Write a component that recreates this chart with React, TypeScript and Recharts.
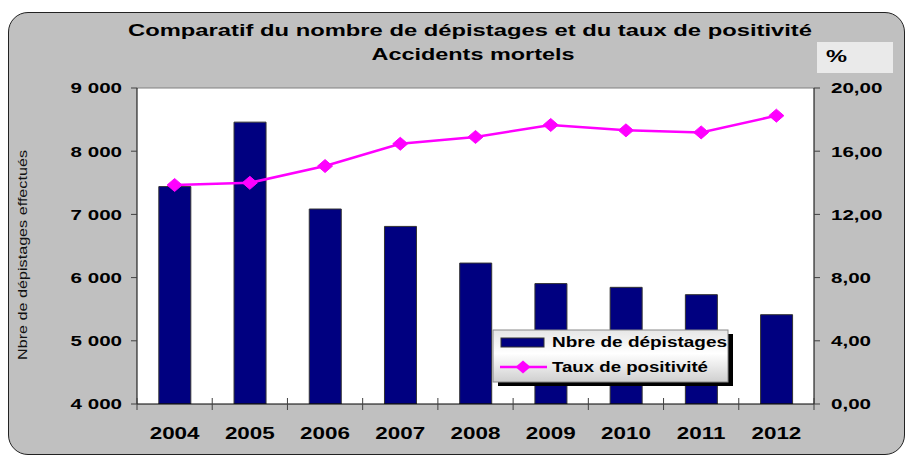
import React from "react";
import {
  ComposedChart,
  Bar,
  Line,
  XAxis,
  YAxis,
  CartesianGrid,
  ReferenceLine,
} from "recharts";

// values
const years = ["2004", "2005", "2006", "2007", "2008", "2009", "2010", "2011", "2012"];
const depistages = [7440, 8460, 7085, 6810, 6230, 5905, 5846, 5730, 5413];
const tauxPositivite = [13.86, 14.0, 15.06, 16.47, 16.9, 17.66, 17.32, 17.19, 18.25];

const leftTicks = [4000, 5000, 6000, 7000, 8000, 9000];
const rightTicks = [0, 4, 8, 12, 16, 20];

const titleLines = [
  "Comparatif du nombre de dépistages et du taux de positivité",
  "Accidents mortels",
];
const yTitle = "Nbre de dépistages effectués";
const unitLabel = "%";
const seriesNames = ["Nbre de dépistages", "Taux de positivité"];

const data = years.map((year, i) => ({
  year,
  depistages: depistages[i],
  taux: tauxPositivite[i],
}));

const NAVY = "#000080";
const MAGENTA = "#FF00FF";
const FONT = "'Liberation Sans', Arial, sans-serif";
const STRETCH = 1.37;
const X_LABEL_GAP = 23; // distance from axis line to label top

const fmtThousands = (v: number) =>
  String(v).replace(/\B(?=(\d{3})+(?!\d))/g, " ");
const fmtPercent = (v: number) => v.toFixed(2).replace(".", ",");

const LeftTick = ({ x, y, payload }: any) => (
  <text
    transform={`translate(${x},${y}) scale(${STRETCH},1)`}
    textAnchor="end"
    dy="0.36em"
    fontFamily={FONT}
    fontWeight="bold"
    fontSize={15}
    fill="#000"
  >
    {fmtThousands(payload.value)}
  </text>
);

const RightTick = ({ x, y, payload }: any) => (
  <text
    transform={`translate(${x},${y}) scale(${STRETCH},1)`}
    textAnchor="start"
    dy="0.36em"
    fontFamily={FONT}
    fontWeight="bold"
    fontSize={15}
    fill="#000"
  >
    {fmtPercent(payload.value)}
  </text>
);

// category label plus the small tick marks between categories
const BottomTick = ({ x, y, payload, index }: any) => {
  const half = payload.offset || 0;
  const axisY = y - X_LABEL_GAP;
  const isLast = index === years.length - 1;
  return (
    <g>
      <line x1={x - half} x2={x - half} y1={axisY - 6} y2={axisY + 6} stroke="#404040" />
      {isLast && (
        <line x1={x + half} x2={x + half} y1={axisY - 6} y2={axisY + 6} stroke="#404040" />
      )}
      <text
        transform={`translate(${x},${y}) scale(1.32,1)`}
        textAnchor="middle"
        dy="0.71em"
        fontFamily={FONT}
        fontWeight="bold"
        fontSize={17}
        fill="#000"
      >
        {payload.value}
      </text>
    </g>
  );
};

const Diamond = ({ cx, cy }: any) => {
  if (cx == null || cy == null) return null;
  return (
    <polygon
      points={`${cx - 7.5},${cy} ${cx},${cy - 6.5} ${cx + 7.5},${cy} ${cx},${cy + 6.5}`}
      fill={MAGENTA}
      stroke={MAGENTA}
    />
  );
};

export default function App() {
  return (
    <div style={{ position: "absolute", left: 0, top: 0, width: 906, height: 456, background: "#fff" }}>
      {/* grey rounded frame */}
      <div
        style={{
          position: "absolute",
          left: 8,
          top: 12,
          width: 897,
          height: 443,
          borderRadius: 20,
          border: "1.5px solid #222",
          background: "#C0C0C0",
          boxSizing: "border-box",
        }}
      />
      <div style={{ position: "absolute", left: 0, top: 0 }}>
        <ComposedChart
          width={906}
          height={456}
          data={data}
          margin={{ top: 88, right: 32, bottom: 2, left: 70 }}
          barCategoryGap="29%"
        >
          <CartesianGrid fill="#fff" horizontal={false} vertical={false} yAxisId="left" />
          <XAxis
            dataKey="year"
            height={50}
            axisLine={{ stroke: "#000" }}
            tickLine={false}
            tickSize={6}
            tickMargin={17}
            tick={<BottomTick />}
            interval={0}
          />
          <YAxis
            yAxisId="left"
            width={67}
            domain={[4000, 9000]}
            ticks={leftTicks}
            allowDataOverflow
            axisLine={{ stroke: "#000" }}
            tickLine={{ stroke: "#404040" }}
            tickSize={6}
            tickMargin={9}
            tick={<LeftTick />}
          />
          <YAxis
            yAxisId="right"
            orientation="right"
            width={60}
            domain={[0, 20]}
            ticks={rightTicks}
            allowDataOverflow
            axisLine={{ stroke: "#000" }}
            tickLine={{ stroke: "#404040" }}
            tickSize={6}
            tickMargin={11}
            tick={<RightTick />}
          />
          <ReferenceLine yAxisId="left" y={9000} stroke="#808080" />
          <Bar
            yAxisId="left"
            dataKey="depistages"
            fill={NAVY}
            stroke="#333"
            strokeWidth={1}
            isAnimationActive={false}
          />
          <Line
            yAxisId="right"
            dataKey="taux"
            stroke={MAGENTA}
            strokeWidth={2.5}
            dot={<Diamond />}
            activeDot={false}
            isAnimationActive={false}
          />
        </ComposedChart>
      </div>
      {/* title, unit box, axis title and legend */}
      <svg
        width={906}
        height={456}
        style={{ position: "absolute", left: 0, top: 0, pointerEvents: "none" }}
        fontFamily={FONT}
      >
        <defs>
          <linearGradient id="legendBg" x1="0" y1="0" x2="0" y2="1">
            <stop offset="0%" stopColor="#e6e6e6" />
            <stop offset="45%" stopColor="#ffffff" />
            <stop offset="100%" stopColor="#cfcfcf" />
          </linearGradient>
        </defs>
        <text x={470} y={36} textAnchor="middle" fontWeight="bold" fontSize={17} textLength={684} lengthAdjust="spacingAndGlyphs">
          {titleLines[0]}
        </text>
        <text x={473} y={60} textAnchor="middle" fontWeight="bold" fontSize={17} textLength={203} lengthAdjust="spacingAndGlyphs">
          {titleLines[1]}
        </text>
        <rect x={817} y={42} width={76} height={31} fill="#EAEAEA" />
        <text x={826} y={62} fontWeight="bold" fontSize={17} textLength={21} lengthAdjust="spacingAndGlyphs">
          {unitLabel}
        </text>
        <text
          transform="translate(27,255) rotate(-90)"
          textAnchor="middle"
          fontSize={13}
          fill="#111"
          textLength={210}
          lengthAdjust="spacingAndGlyphs"
        >
          {yTitle}
        </text>
        {/* legend */}
        <rect x={498} y={334} width={235} height={52} fill="#000" />
        <rect x={493} y={330} width={235} height={52} fill="url(#legendBg)" stroke="#8a8a8a" />
        <rect x={501} y={338} width={43} height={9} fill={NAVY} stroke="#333" />
        <text x={552} y={347} fontWeight="bold" fontSize={14} textLength={175} lengthAdjust="spacingAndGlyphs">
          {seriesNames[0]}
        </text>
        <line x1={500} y1={367} x2={547} y2={367} stroke={MAGENTA} strokeWidth={2.5} />
        <polygon points="515.5,367 523,360.5 530.5,367 523,373.5" fill={MAGENTA} />
        <text x={552} y={372} fontWeight="bold" fontSize={14} textLength={156} lengthAdjust="spacingAndGlyphs">
          {seriesNames[1]}
        </text>
      </svg>
    </div>
  );
}
